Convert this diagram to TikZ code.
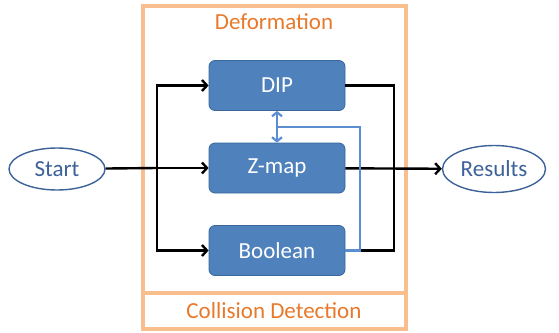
\documentclass[tikz,border=0pt]{standalone}
\usepackage{fontspec}
\setmainfont{Carlito}
\usetikzlibrary{arrows.meta,shapes.geometric}

\definecolor{boxblue}{HTML}{4F81BD}
\definecolor{boxedge}{HTML}{3A679C}
\definecolor{ovaledge}{HTML}{3C6299}
\definecolor{lineblue}{HTML}{5B8ED0}
\definecolor{frameorange}{HTML}{F9BE8E}
\definecolor{textorange}{HTML}{E8782A}

\tikzset{
  stage/.style={rectangle,rounded corners=6pt,draw=boxedge,line width=0.8pt,fill=boxblue,
    text=white,minimum width=136pt,minimum height=50pt,font=\fontsize{23}{25}\selectfont},
  terminal/.style={ellipse,draw=ovaledge,line width=1.4pt,fill=white,text=ovaledge,
    inner sep=0pt,font=\fontsize{23}{25}\selectfont},
  flow/.style={draw=black,line width=2.4pt,line join=miter,-{Straight Barb[length=5pt,width=11pt]}},
  link/.style={draw=black,line width=2.4pt,line join=miter},
  feedback/.style={draw=lineblue,line width=2.2pt,line join=miter},
}

\begin{document}
\begin{tikzpicture}[x=1pt,y=-1pt]

      \useasboundingbox (0,0) rectangle (559,332);

      \draw[frameorange, line width=3.5pt] (143,6) rectangle (406,329);
      \draw[frameorange, line width=3.5pt] (143,293) -- (406,293);
      \node[text=textorange, font=\fontsize{23}{25}\selectfont] (deform) at (274,22) {Deformation};
      \node[text=textorange, font=\fontsize{23}{25}\selectfont] (collide) at (274,311) {Collision Detection};

      \begin{scope}[every node/.style={stage}]
        \node (dip)  at (277,85.5)  {DIP};
        \node (zmap) at (277,168)   {Z-map};
        \node (bool) at (277,250.5) {Boolean};
      \end{scope}

      \node[terminal, minimum width=96pt, minimum height=42pt] (start)   at (57,169)  {Start};
      \node[terminal, minimum width=103pt, minimum height=47pt] (results) at (494,169) {Results};

      \coordinate (lj) at (157,168);
      \coordinate (rj) at (394,168);
      \coordinate (bt) at (360,127);
      \coordinate (bk) at (277,127);

      \path[link] (start) -- (lj);
      \path[flow] (lj) |- (dip);
      \path[flow] (lj) -- (zmap);
      \path[flow] (lj) |- (bool);

      \path[link] (dip.east) -| (rj);
      \path[link] (bool.east) -| (rj);
      \path[flow] (zmap) -- (results);

      \path[feedback, {Straight Barb[length=4pt,width=10pt]}-{Straight Barb[length=4pt,width=10pt]}] (dip) -- (zmap);
      \path[feedback] (bool.east) -| (bt) -- (bk);

    \end{tikzpicture}
\end{document}
